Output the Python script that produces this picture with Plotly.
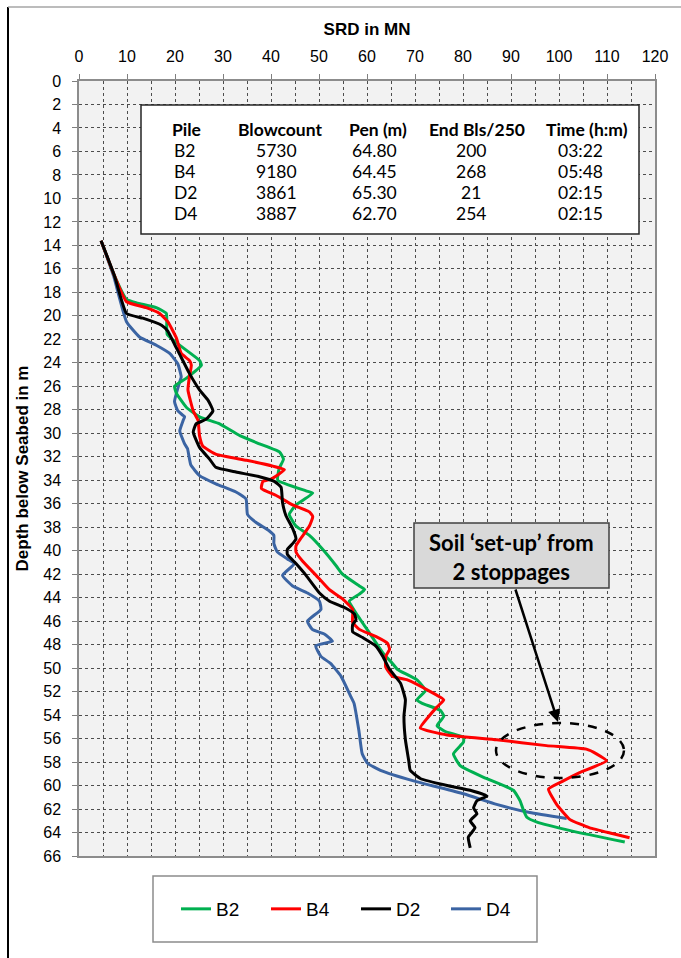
import plotly.graph_objects as go

# ---------------- data (SRD in MN vs depth below seabed in m) ----------------
b2_srd = [4.6, 7.4, 9.9, 12.0, 16.1, 18.2, 18.4, 25.1, 25.5, 22.4, 19.9, 20.3, 22.4, 25.1, 29.3,
          33.5, 37.6, 41.8, 42.6, 41.7, 41.4, 47.3, 48.7, 45.2, 43.8, 45.2, 48.0, 50.8, 53.6,
          54.9, 58.4, 59.5, 58.4, 56.3, 57.7, 60.5, 63.3, 65.3, 66.3, 70.4, 72.2, 70.4, 71.5,
          75.3, 76.0, 74.6, 76.3, 80.1, 80.1, 78.0, 79.4, 84.3, 90.5, 91.9, 92.6, 93.3, 95.3,
          103.0, 113.7]
b2_depth = [13.6, 16.6, 18.6, 18.9, 19.3, 19.8, 21.6, 23.8, 24.2, 25.3, 26.0, 26.6, 27.8, 28.6, 29.2,
            30.2, 30.9, 31.6, 32.2, 33.0, 34.0, 34.9, 35.1, 36.1, 36.9, 37.9, 38.7, 39.9, 41.3,
            42.0, 43.0, 43.3, 43.7, 44.3, 45.3, 47.0, 48.7, 49.6, 50.1, 51.0, 51.9, 52.7, 53.0,
            53.6, 54.1, 54.9, 55.4, 55.9, 56.3, 57.3, 58.3, 59.3, 60.4, 61.3, 62.1, 62.7, 63.1,
            63.9, 64.8]

b4_srd = [4.6, 7.4, 9.9, 14.0, 16.8, 18.5, 20.3, 21.3, 23.0, 23.4, 23.0, 22.7, 23.8, 24.8, 25.1,
          25.8, 28.6, 34.9, 40.4, 42.8, 40.0, 38.3, 38.0, 41.1, 44.5, 48.0, 48.7, 48.0, 46.3,
          45.2, 45.2, 46.6, 49.4, 52.1, 54.9, 57.0, 57.0, 58.4, 61.8, 64.3, 64.7, 63.9, 63.9,
          65.3, 68.4, 73.2, 76.0, 74.6, 72.9, 71.1, 76.7, 87.0, 97.4, 105.7, 107.8, 109.9,
          104.3, 100.9, 97.8, 99.5, 102.3, 106.4, 111.3, 114.7]
b4_depth = [13.6, 16.6, 18.8, 19.3, 19.8, 20.5, 21.9, 23.2, 23.8, 24.2, 25.2, 26.3, 28.1, 28.9, 30.2,
            31.1, 31.8, 32.3, 32.8, 33.1, 33.9, 34.1, 34.7, 35.3, 36.1, 36.7, 37.1, 37.9, 38.9,
            39.6, 40.1, 40.9, 42.1, 43.3, 44.1, 45.0, 46.1, 46.7, 47.3, 47.9, 48.4, 49.0, 49.9,
            50.7, 51.0, 52.0, 52.7, 53.3, 54.1, 55.1, 55.7, 56.1, 56.6, 56.9, 57.3, 57.9,
            58.9, 59.6, 60.3, 61.6, 62.9, 63.6, 64.1, 64.45]

d2_srd = [4.6, 7.4, 9.9, 13.3, 17.2, 18.5, 20.0, 21.0, 23.0, 25.1, 26.9, 27.9, 26.5, 24.4, 23.8,
          25.1, 27.2, 28.5, 32.7, 37.6, 40.7, 42.1, 42.4, 43.1, 44.5, 45.2, 44.5, 43.4, 43.4,
          45.2, 47.3, 50.1, 52.2, 55.6, 57.4, 57.7, 57.0, 57.0, 59.1, 61.8, 63.3, 64.7, 67.0,
          68.0, 67.7, 68.0, 68.7, 69.0, 71.1, 76.7, 81.5, 85.0, 82.9, 82.2, 82.9, 81.5, 82.5,
          81.1, 81.5]
d2_depth = [13.6, 16.6, 19.8, 20.2, 20.8, 21.3, 22.5, 23.3, 24.9, 26.3, 27.2, 28.1, 28.8, 29.2, 29.9,
            31.2, 32.2, 32.9, 33.3, 33.7, 34.1, 34.6, 35.9, 37.0, 38.1, 39.0, 39.4, 39.9, 40.3,
            41.1, 42.1, 43.6, 44.3, 44.9, 45.4, 45.9, 46.3, 46.9, 47.4, 48.1, 49.0, 50.1, 51.3,
            52.7, 54.1, 56.1, 57.9, 58.7, 59.4, 60.0, 60.4, 60.9, 61.3, 61.9, 62.4, 63.0, 63.6,
            64.4, 65.3]

d4_srd = [4.6, 7.2, 9.9, 12.6, 16.1, 18.9, 20.6, 21.3, 21.0, 19.9, 20.6, 22.0, 21.7, 21.0, 22.0,
          22.6, 23.3, 25.1, 28.5, 32.7, 34.8, 35.1, 36.9, 39.6, 40.6, 40.6, 41.3, 43.4, 44.9,
          42.4, 44.5, 47.6, 50.1, 50.4, 47.6, 48.6, 51.1, 52.8, 49.3, 50.4, 52.4, 54.6, 56.6,
          57.3, 58.3, 59.0, 60.1, 62.8, 69.7, 80.1, 87.0, 93.9, 101.6]
d4_depth = [13.6, 16.6, 20.5, 21.8, 22.5, 23.2, 24.1, 25.2, 25.6, 27.3, 28.1, 28.6, 28.9, 29.8, 30.9,
            31.3, 32.7, 33.6, 34.3, 35.0, 35.6, 36.9, 37.6, 38.3, 38.7, 39.4, 40.1, 40.7, 41.1,
            42.1, 43.0, 43.6, 44.3, 45.0, 46.0, 46.7, 47.1, 47.7, 48.1, 49.0, 49.6, 50.7, 52.4,
            53.0, 55.3, 57.3, 58.1, 58.7, 59.6, 60.7, 61.6, 62.3, 62.8]

# summary table
tbl_header = ["Pile", "Blowcount", "Pen (m)", "End Bls/250", "Time (h:m)"]
tbl_pile = ["B2", "B4", "D2", "D4"]
tbl_blow = ["5730", "9180", "3861", "3887"]
tbl_pen = ["64.80", "64.45", "65.30", "62.70"]
tbl_end = ["200", "268", "21", "254"]
tbl_time = ["03:22", "05:48", "02:15", "02:15"]

# ---------------- layout geometry ----------------
W, H = 681, 958
PL, PR, PT, PB = 79, 655, 81, 856   # plot area in px
XMAX, YMAX = 120, 66


def px_x(px):
    return (px - PL) / (PR - PL) * XMAX


def px_y(py):
    return (py - PT) / (PB - PT) * YMAX


def paper_x(px):
    return (px - PL) / (PR - PL)


def paper_y(py):
    return (PB - py) / (PB - PT)


fig = go.Figure()

series = [
    ("D4", d4_srd, d4_depth, "#3b64a3", 4),
    ("B2", b2_srd, b2_depth, "#00b050", 1),
    ("B4", b4_srd, b4_depth, "#ff0000", 2),
    ("D2", d2_srd, d2_depth, "#000000", 3),
]
for name, xs, ys, col, rank in series:
    fig.add_trace(go.Scatter(
        x=xs, y=ys, mode="lines", name=name, legendrank=rank,
        line=dict(color=col, width=3, shape="spline", smoothing=0.4),
    ))

AX_FONT = "Liberation Sans"
TBL_FONT = "Lato"
grid = dict(gridcolor="#4d4d4d", griddash="dot", gridwidth=1)

fig.update_layout(
    width=W, height=H,
    margin=dict(l=PL, r=W - PR, t=PT, b=H - PB, pad=0),
    paper_bgcolor="white",
    plot_bgcolor="#f2f2f2",
    font=dict(family=AX_FONT, size=16, color="#000"),
    xaxis=dict(
        side="top", range=[0, XMAX], tick0=0, dtick=10, showgrid=True, **grid,
        minor=dict(dtick=5, showgrid=True, **grid, ticks=""),
        ticks="outside", ticklen=5, tickcolor="#7f7f7f", tickwidth=1,
        showline=True, linecolor="#8c8c8c", linewidth=1.5, mirror=True,
        zeroline=False, ticklabelstandoff=6,
        tickfont=dict(family=AX_FONT, size=16, color="#000"),
        title=dict(text="SRD in MN", standoff=8,
                   font=dict(family=AX_FONT, size=17, weight="bold", color="#000")),
    ),
    yaxis=dict(
        range=[YMAX, 0], tick0=0, dtick=2, showgrid=True, **grid,
        ticks="outside", ticklen=5, tickcolor="#7f7f7f", tickwidth=1,
        showline=True, linecolor="#8c8c8c", linewidth=1.5, mirror=True,
        zeroline=False, ticklabelstandoff=8,
        tickfont=dict(family=AX_FONT, size=16, color="#000"),
        title=dict(text="Depth below Seabed in m", standoff=10,
                   font=dict(family=AX_FONT, size=17, weight="bold", color="#000")),
    ),
    showlegend=True,
    legend=dict(
        orientation="h", x=paper_x(176), y=paper_y(909), xanchor="left", yanchor="middle",
        bgcolor="rgba(0,0,0,0)", borderwidth=0,
        font=dict(family=AX_FONT, size=19, color="#000"),
        entrywidth=45, entrywidthmode="pixels", itemwidth=30,
    ),
)

shapes = []
# outer frame lines of the original figure
shapes.append(dict(type="line", xref="paper", yref="paper",
                   x0=paper_x(8), x1=paper_x(8), y0=paper_y(7), y1=paper_y(958),
                   line=dict(color="#000", width=2)))
shapes.append(dict(type="line", xref="paper", yref="paper",
                   x0=paper_x(8), x1=paper_x(681), y0=paper_y(7), y1=paper_y(7),
                   line=dict(color="#a6a6a6", width=1.5)))
# legend box
shapes.append(dict(type="rect", xref="paper", yref="paper",
                   x0=paper_x(153), x1=paper_x(537), y0=paper_y(876), y1=paper_y(942),
                   fillcolor="white", line=dict(color="#8c8c8c", width=1.5), layer="below"))
# table box
shapes.append(dict(type="rect", xref="x", yref="y",
                   x0=px_x(141), x1=px_x(639), y0=px_y(105), y1=px_y(234),
                   fillcolor="white", line=dict(color="#262626", width=1.5), layer="above"))
# callout box
shapes.append(dict(type="rect", xref="x", yref="y",
                   x0=px_x(414), x1=px_x(609), y0=px_y(523), y1=px_y(588),
                   fillcolor="#d9d9d9", line=dict(color="#404040", width=1.5), layer="above"))
# dashed ellipse
shapes.append(dict(type="circle", xref="x", yref="y",
                   x0=px_x(496), x1=px_x(624), y0=px_y(723), y1=px_y(778),
                   line=dict(color="#000", width=2.5, dash="dash"), layer="above"))
fig.update_layout(shapes=shapes)

TS = 17.5
ann = []
# table text
col_hdr_x = [None, px_x(279.5), px_x(377.5), px_x(477), px_x(586.5)]
col_val_x = [None, px_x(276), px_x(374.5), px_x(471), px_x(580.5)]
row_y = [px_y(129), px_y(150), px_y(171), px_y(192), px_y(213)]
for j, h in enumerate(tbl_header):
    if j == 0:
        ann.append(dict(x=px_x(170), y=row_y[0], text=h, xanchor="left", yanchor="middle",
                        showarrow=False, xref="x", yref="y",
                        font=dict(family=TBL_FONT, size=TS, weight="bold", color="#000")))
    else:
        ann.append(dict(x=col_hdr_x[j], y=row_y[0], text=h, xanchor="center", yanchor="middle",
                        showarrow=False, xref="x", yref="y",
                        font=dict(family=TBL_FONT, size=TS, weight="bold", color="#000")))
cols = [tbl_pile, tbl_blow, tbl_pen, tbl_end, tbl_time]
for j, col in enumerate(cols):
    for i, v in enumerate(col):
        if j == 0:
            ann.append(dict(x=px_x(172), y=row_y[i + 1], text=v, xanchor="left", yanchor="middle",
                            showarrow=False, xref="x", yref="y",
                            font=dict(family=TBL_FONT, size=TS, color="#000")))
        else:
            ann.append(dict(x=col_val_x[j], y=row_y[i + 1], text=v, xanchor="center",
                            yanchor="middle", showarrow=False, xref="x", yref="y",
                            font=dict(family=TBL_FONT, size=TS, color="#000")))

# callout text
ann.append(dict(x=px_x(511.5), y=px_y(557), text="Soil ‘set-up’ from<br>2 stoppages",
                showarrow=False, xref="x", yref="y", xanchor="center", yanchor="middle",
                font=dict(family=TBL_FONT, size=22, weight="bold", color="#000")))
# arrow
ann.append(dict(x=px_x(558), y=px_y(722), ax=px_x(515), ay=px_y(588),
                xref="x", yref="y", axref="x", ayref="y", text="",
                showarrow=True, arrowhead=2, arrowsize=1, arrowwidth=2.5, arrowcolor="#000"))
fig.update_layout(annotations=ann)

fig.write_html("out.html")
